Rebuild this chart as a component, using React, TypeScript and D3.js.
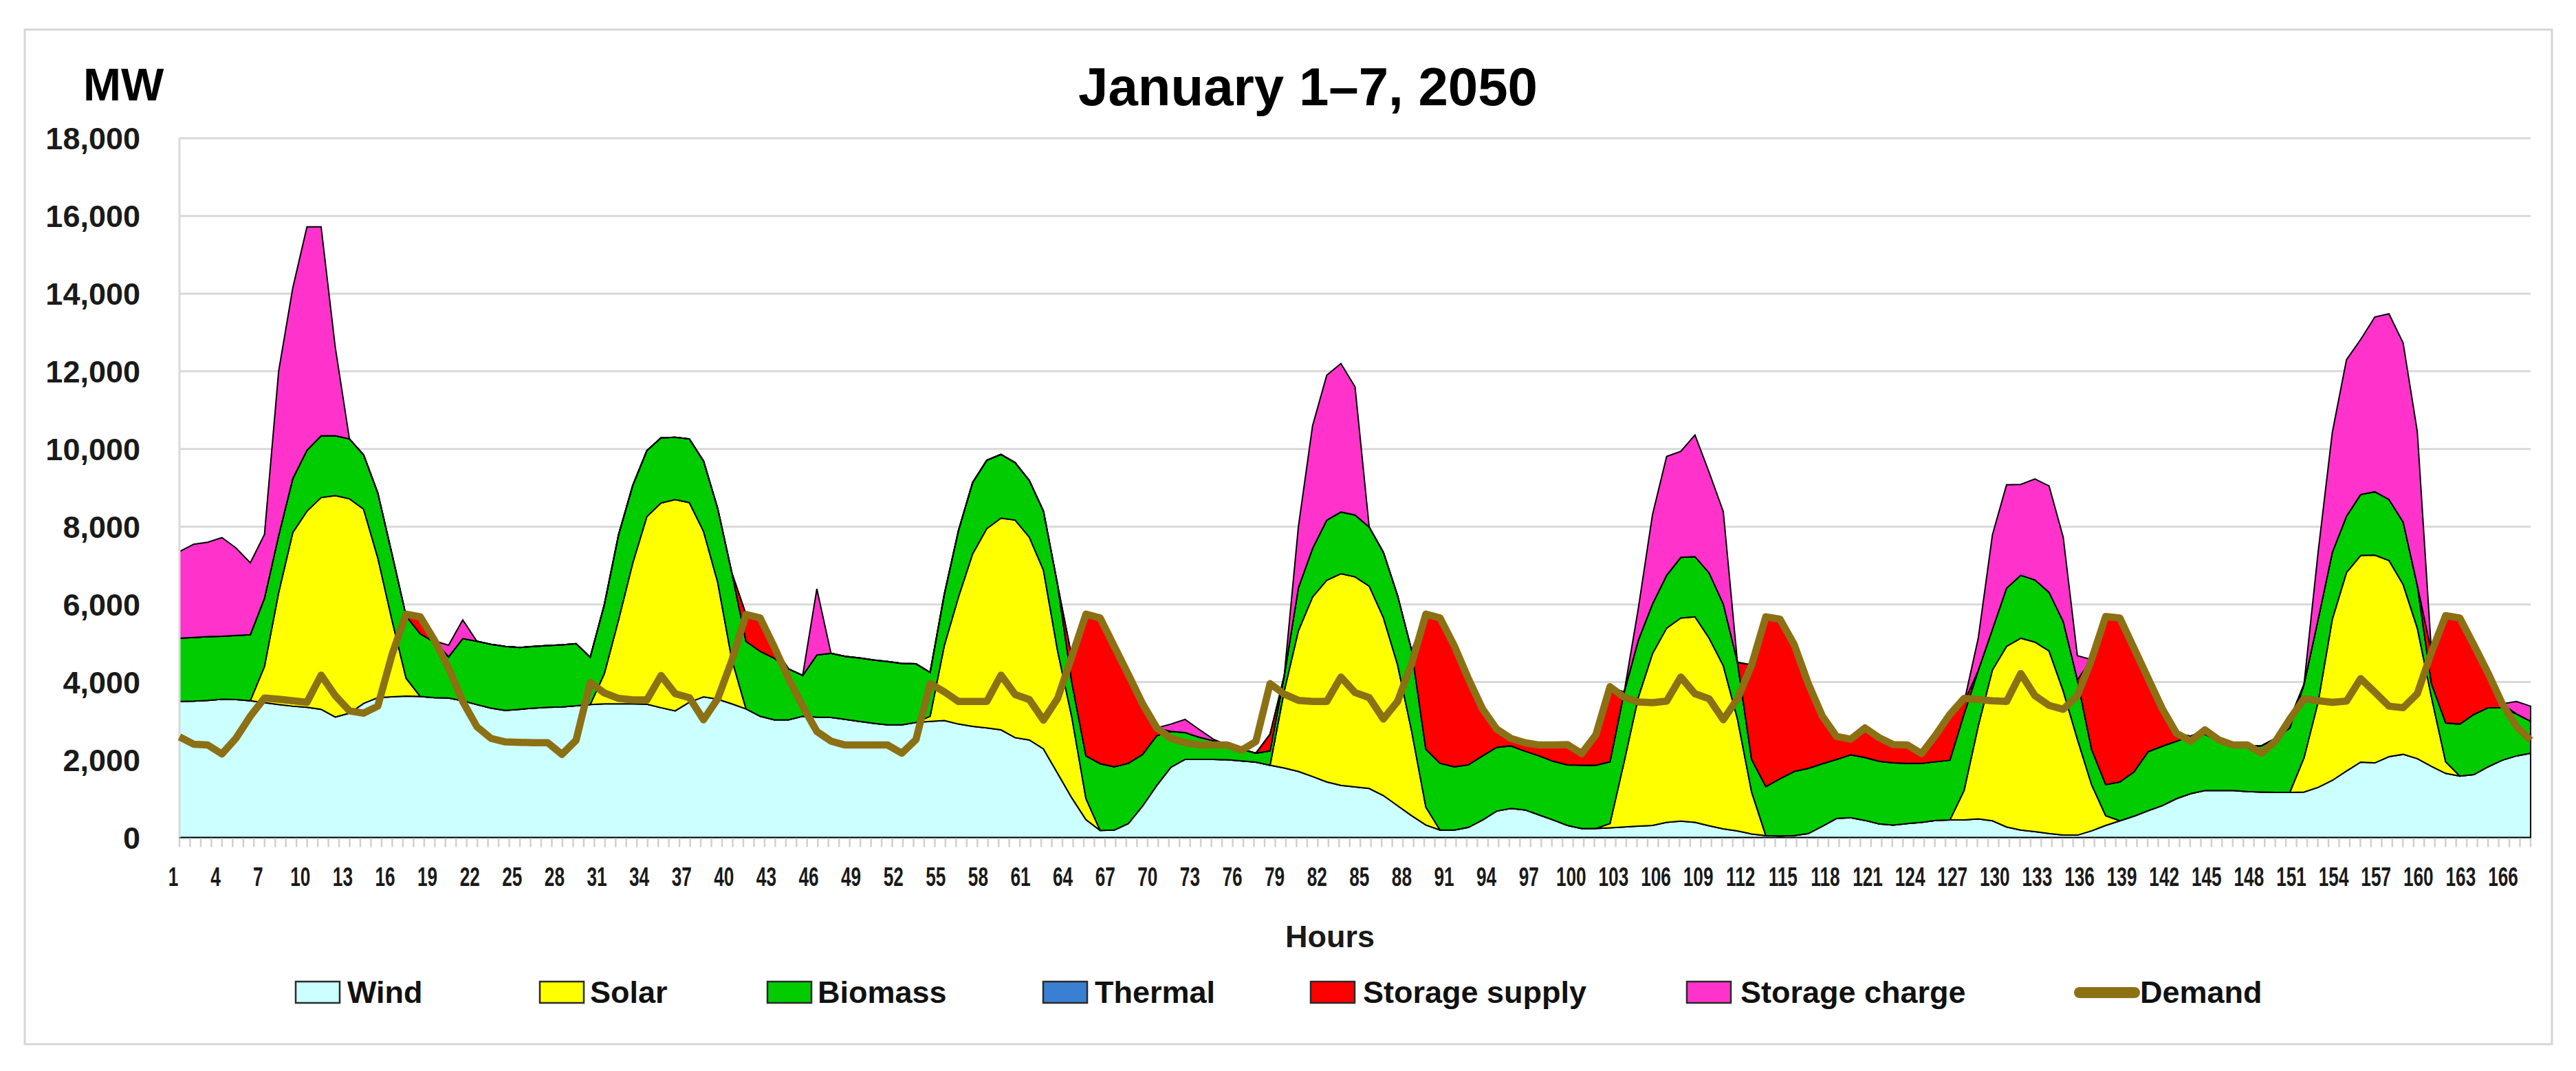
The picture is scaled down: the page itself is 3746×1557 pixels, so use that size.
import { useEffect, useRef } from 'react';
import * as d3 from 'd3';

// Hourly generation mix, January 1–7, 2050 (MW)
const hours = d3.range(1, 168);

const xTickLabels = [
  1, 4, 7, 10, 13, 16, 19, 22, 25, 28, 31, 34, 37, 40, 43, 46, 49, 52, 55, 58, 61, 64, 67, 70, 73, 76,
  79, 82, 85, 88, 91, 94, 97, 100, 103, 106, 109, 112, 115, 118, 121, 124, 127, 130, 133, 136, 139,
  142, 145, 148, 151, 154, 157, 160, 163, 166,
];

const yTicks = [0, 2000, 4000, 6000, 8000, 10000, 12000, 14000, 16000, 18000];

const seriesNames = ['Wind', 'Solar', 'Biomass', 'Thermal', 'Storage supply', 'Storage charge'];
const seriesColors = ['#CCFFFF', '#FFFF00', '#00CC00', '#3A80D2', '#FF0000', '#FF33CC'];

const wind = [
  3500, 3510, 3530, 3560, 3550, 3520, 3470, 3420, 3380, 3350,
  3300, 3100, 3200, 3450, 3600, 3620, 3640, 3630, 3600, 3590,
  3520, 3420, 3330, 3270, 3300, 3330, 3350, 3360, 3390, 3420,
  3440, 3440, 3440, 3430, 3340, 3260, 3480, 3620, 3560, 3440,
  3310, 3120, 3030, 3030, 3120, 3100, 3090, 3040, 2990, 2940,
  2900, 2900, 2960, 2990, 3010, 2920, 2860, 2820, 2770, 2570,
  2510, 2280, 1650, 1020, 460, 180, 190, 360, 810, 1340,
  1810, 2010, 2010, 2010, 2000, 1970, 1940, 1860, 1790, 1700,
  1570, 1430, 1340, 1300, 1260, 1080, 820, 560, 320, 190,
  190, 260, 450, 680, 750, 710, 580, 450, 310, 230,
  230, 250, 270, 290, 310, 390, 420, 390, 300, 220,
  170, 90, 50, 40, 50, 100, 290, 490, 510, 440,
  350, 320, 360, 390, 440, 450, 450, 480, 430, 270,
  190, 150, 100, 60, 60, 170, 310, 430, 550, 690,
  820, 1000, 1130, 1210, 1210, 1210, 1180, 1170, 1160, 1160,
  1170, 1290, 1470, 1710, 1940, 1920, 2080, 2140, 2030, 1830,
  1650, 1580, 1620, 1820, 1990, 2100, 2170,
];

const solar = [
  0, 0, 0, 0, 0, 0, 930, 2880, 4470, 5050,
  5450, 5700, 5520, 5000, 3600, 1980, 460, 0, 0, 0,
  0, 0, 0, 0, 0, 0, 0, 0, 0, 0,
  780, 2160, 3620, 4830, 5270, 5440, 5140, 4260, 3010, 1140,
  0, 0, 0, 0, 0, 0, 0, 0, 0, 0,
  0, 0, 0, 130, 1930, 3270, 4440, 5130, 5450, 5600,
  5220, 4600, 3150, 2080, 540, 0, 0, 0, 0, 0,
  0, 0, 0, 0, 0, 0, 0, 0, 1980, 3620,
  4620, 5190, 5450, 5410, 5210, 4580, 3630, 2170, 460, 0,
  0, 0, 0, 0, 0, 0, 0, 0, 0, 0,
  0, 110, 1680, 3320, 4420, 5000, 5230, 5290, 4830, 4200,
  2880, 1080, 0, 0, 0, 0, 0, 0, 0, 0,
  0, 0, 0, 0, 0, 0, 760, 2390, 3880, 4650,
  4940, 4880, 4700, 3710, 2470, 1190, 250, 0, 0, 0,
  0, 0, 0, 0, 0, 0, 0, 0, 0, 0,
  880, 2200, 4150, 5110, 5320, 5350, 5050, 4370, 3360, 1780,
  300, 0, 0, 0, 0, 0, 0,
];

const biomass = [
  1630, 1640, 1640, 1620, 1650, 1700, 1760, 1470, 1390, 1570,
  1590, 1540, 1540, 1400, 1670, 1700, 1600, 1610, 1430, 1060,
  1600, 1630, 1640, 1650, 1590, 1590, 1590, 1600, 1600, 1220,
  1780, 2190, 2000, 1700, 1680, 1600, 1640, 1810, 1900, 2230,
  1740, 1670, 1580, 1310, 1050, 1600, 1650, 1620, 1630, 1630,
  1630, 1580, 1510, 1130, 1320, 1710, 1840, 1760, 1640, 1480,
  1460, 1520, 1700, 900, 1100, 1720, 1630, 1550, 1330, 1280,
  920, 690, 570, 480, 380, 300, 230, 370, 390, 1110,
  1250, 1550, 1590, 1590, 1520, 1680, 1780, 2080, 1490, 1720,
  1630, 1610, 1650, 1640, 1610, 1510, 1520, 1510, 1560, 1630,
  1630, 1590, 1790, 1470, 1280, 1360, 1560, 1550, 1680, 1590,
  1460, 840, 1260, 1470, 1650, 1680, 1610, 1520, 1620, 1620,
  1610, 1600, 1550, 1520, 1510, 1540, 1970, 1430, 1050, 1500,
  1620, 1600, 1510, 1790, 1530, 910, 800, 1000, 1140, 1520,
  1530, 1480, 1480, 1450, 1260, 1180, 1170, 1190, 1390, 1660,
  1890, 2130, 1720, 1450, 1570, 1630, 1570, 1610, 1100, 350,
  1000, 1340, 1550, 1520, 1350, 1080, 820,
];

const thermal = [
  0, 0, 0, 0, 0, 0, 0, 0, 0, 0,
  0, 0, 0, 0, 0, 0, 0, 0, 0, 0,
  0, 0, 0, 0, 0, 0, 0, 0, 0, 0,
  0, 0, 0, 0, 0, 0, 0, 0, 0, 0,
  0, 0, 0, 0, 0, 0, 0, 0, 0, 0,
  0, 0, 0, 0, 0, 0, 0, 0, 0, 0,
  0, 0, 0, 0, 0, 0, 0, 0, 0, 0,
  0, 0, 0, 0, 0, 0, 0, 0, 0, 0,
  0, 0, 0, 0, 0, 0, 0, 0, 0, 0,
  0, 0, 0, 0, 0, 0, 0, 0, 0, 0,
  0, 0, 0, 0, 0, 0, 0, 0, 0, 0,
  0, 0, 0, 0, 0, 0, 0, 0, 0, 0,
  0, 0, 0, 0, 0, 0, 0, 0, 0, 0,
  0, 0, 0, 0, 0, 0, 0, 0, 0, 0,
  0, 0, 0, 0, 0, 0, 0, 0, 0, 0,
  0, 0, 0, 0, 0, 0, 0, 0, 0, 0,
  0, 0, 0, 0, 0, 0, 0,
];

const storageSupply = [
  0, 0, 0, 0, 0, 0, 0, 0, 0, 0,
  0, 0, 0, 0, 0, 0, 0, 380, 30, 0,
  0, 0, 0, 0, 0, 0, 0, 0, 0, 0,
  0, 0, 0, 0, 0, 0, 0, 0, 0, 0,
  690, 860, 290, 0, 0, 0, 0, 0, 0, 0,
  0, 0, 0, 0, 0, 0, 0, 0, 0, 0,
  0, 0, 0, 650, 3650, 3750, 3100, 2280, 1300, 200,
  0, 0, 0, 0, 0, 0, 0, 430, 0, 0,
  0, 0, 0, 0, 0, 0, 0, 0, 3480, 3740,
  3120, 2220, 1210, 470, 170, 180, 280, 420, 530, 300,
  780, 1930, 0, 0, 0, 0, 0, 0, 0, 0,
  0, 2430, 4370, 4110, 3270, 2180, 1220, 590, 400, 760,
  610, 470, 470, 250, 690, 1180, 300, 0, 0, 0,
  0, 0, 0, 0, 0, 2310, 4330, 4220, 3180, 1880,
  960, 200, 0, 110, 40, 0, 0, 0, 0, 230,
  0, 0, 0, 0, 0, 0, 0, 0, 0, 810,
  2760, 2730, 1780, 890, 100, 0, 0,
];

const storageCharge = [
  2230, 2400, 2430, 2540, 2250, 1850, 1640, 4230, 4910, 5750,
  5380, 2280, 0, 0, 0, 0, 0, 0, 0, 300,
  480, 0, 0, 0, 0, 0, 0, 0, 0, 0,
  0, 0, 0, 0, 0, 0, 0, 0, 0, 0,
  0, 0, 0, 0, 0, 1700, 0, 0, 0, 0,
  0, 0, 0, 0, 0, 0, 0, 0, 0, 0,
  0, 0, 0, 0, 0, 0, 0, 0, 0, 0,
  190, 340, 200, 40, 0, 0, 0, 0, 0, 1570,
  3160, 3730, 3820, 3300, 0, 0, 0, 0, 0, 0,
  0, 0, 0, 0, 0, 0, 0, 0, 0, 0,
  0, 0, 0, 820, 2300, 3060, 2730, 3130, 2590, 2380,
  0, 0, 0, 0, 0, 0, 0, 0, 0, 0,
  0, 0, 0, 0, 0, 0, 0, 830, 2430, 2660,
  2340, 2600, 2740, 2170, 620, 0, 0, 0, 0, 0,
  0, 0, 0, 0, 0, 0, 0, 0, 0, 0,
  0, 1740, 3090, 4030, 3990, 4500, 4780, 4610, 3960, 0,
  0, 0, 0, 0, 0, 320, 390,
];

const demand = [
  2590, 2400, 2380, 2150, 2560, 3120, 3590, 3560, 3520, 3480,
  4180, 3650, 3260, 3200, 3380, 4700, 5750, 5680, 5080, 4360,
  3500, 2850, 2550, 2460, 2450, 2440, 2440, 2140, 2500, 3990,
  3720, 3580, 3540, 3540, 4170, 3700, 3600, 3030, 3570, 4560,
  5740, 5650, 4900, 4090, 3380, 2730, 2480, 2380, 2380, 2380,
  2380, 2170, 2520, 3960, 3750, 3500, 3500, 3500, 4180, 3680,
  3550, 3020, 3580, 4650, 5750, 5650, 4920, 4190, 3440, 2820,
  2550, 2440, 2380, 2380, 2380, 2250, 2470, 3960, 3690, 3530,
  3500, 3500, 4130, 3730, 3600, 3050, 3500, 4480, 5750, 5650,
  4940, 4090, 3310, 2790, 2550, 2440, 2380, 2380, 2390, 2160,
  2640, 3880, 3610, 3490, 3470, 3510, 4130, 3700, 3570, 3030,
  3570, 4440, 5680, 5620, 4970, 3960, 3120, 2600, 2530, 2820,
  2570, 2390, 2380, 2160, 2640, 3170, 3580, 3550, 3520, 3500,
  4220, 3650, 3400, 3300, 3650, 4580, 5690, 5650, 4870, 4090,
  3310, 2680, 2480, 2770, 2510, 2380, 2380, 2170, 2480, 3050,
  3570, 3520, 3480, 3510, 4090, 3740, 3380, 3340, 3700, 4770,
  5710, 5650, 4950, 4230, 3440, 2860, 2500,
];

const seriesValues = [wind, solar, biomass, thermal, storageSupply, storageCharge];

const FONT = '"Liberation Sans", Arial, Helvetica, sans-serif';

const EnergyMixChart = () => {
  const svgRef = useRef<SVGSVGElement>(null);

  useEffect(() => {
    if (!svgRef.current) return;
    const svg = d3.select(svgRef.current);
    svg.selectAll('*').remove();

    const width = 3746;
    const height = 1557;
    const plot = { left: 261, right: 3680, top: 201, bottom: 1217.5 };

    svg.attr('width', width).attr('height', height).attr('viewBox', `0 0 ${width} ${height}`);

    svg.append('rect').attr('width', width).attr('height', height).attr('fill', '#ffffff');

    // outer chart frame
    svg.append('rect')
      .attr('x', 36).attr('y', 43).attr('width', 3675).attr('height', 1475)
      .attr('fill', '#ffffff').attr('stroke', '#d6d6d6').attr('stroke-width', 3);

    const x = d3.scaleLinear().domain([1, 167]).range([plot.left, plot.right]);
    const y = d3.scaleLinear().domain([0, 18000]).range([plot.bottom, plot.top]);
    // category labels sit slightly left of the points, as in the source chart
    const xLabel = d3.scaleLinear().domain([1, 166]).range([252, 3640]);

    // gridlines
    svg.append('g')
      .selectAll('line')
      .data(yTicks)
      .enter()
      .append('line')
      .attr('x1', plot.left).attr('x2', plot.right)
      .attr('y1', d => y(d)).attr('y2', d => y(d))
      .attr('stroke', '#d9d9d9').attr('stroke-width', 3);

    // y axis labels
    svg.append('g')
      .selectAll('text')
      .data(yTicks)
      .enter()
      .append('text')
      .attr('x', 204)
      .attr('y', d => y(d))
      .attr('dy', '0.36em')
      .attr('text-anchor', 'end')
      .attr('font-family', FONT).attr('font-weight', 'bold').attr('font-size', 45)
      .attr('fill', '#1a1a1a')
      .text(d => d3.format(',')(d));

    // stacked areas
    const rows = hours.map((h, i) => {
      const row: Record<string, number> = { hour: h };
      seriesNames.forEach((name, s) => { row[name] = seriesValues[s][i]; });
      return row;
    });
    const layers = d3.stack<Record<string, number>>().keys(seriesNames)(rows);

    const area = d3.area<d3.SeriesPoint<Record<string, number>>>()
      .x(d => x(d.data.hour))
      .y0(d => y(d[0]))
      .y1(d => y(d[1]));

    svg.append('g')
      .selectAll('path')
      .data(layers)
      .enter()
      .append('path')
      .attr('d', d => area(d) || '')
      .attr('fill', (_, i) => seriesColors[i])
      .attr('stroke', '#000000')
      .attr('stroke-width', 2)
      .attr('stroke-linejoin', 'miter');

    // axis lines and minor ticks
    svg.append('line')
      .attr('x1', plot.left).attr('x2', plot.left)
      .attr('y1', plot.top).attr('y2', plot.bottom)
      .attr('stroke', '#d9d9d9').attr('stroke-width', 3);

    const tickScale = d3.scaleLinear().domain([0, 221]).range([plot.left, plot.right]);
    svg.append('g')
      .selectAll('line')
      .data(d3.range(0, 222))
      .enter()
      .append('line')
      .attr('x1', d => tickScale(d)).attr('x2', d => tickScale(d))
      .attr('y1', plot.bottom + 1).attr('y2', plot.bottom + 14)
      .attr('stroke', '#d0d0d0').attr('stroke-width', 2.5);

    // demand line
    const line = d3.line<number>()
      .x((_, i) => x(hours[i]))
      .y(d => y(d));

    svg.append('path')
      .attr('d', line(demand) || '')
      .attr('fill', 'none')
      .attr('stroke', '#8C7014')
      .attr('stroke-width', 10.5)
      .attr('stroke-linejoin', 'round')
      .attr('stroke-linecap', 'butt');

    // x axis labels (condensed to fit the dense hour axis)
    svg.append('g')
      .selectAll('text')
      .data(xTickLabels)
      .enter()
      .append('text')
      .attr('transform', d => `translate(${xLabel(d)},1288) scale(0.69,1)`)
      .attr('text-anchor', 'middle')
      .attr('font-family', FONT).attr('font-weight', 'bold').attr('font-size', 38)
      .attr('fill', '#1a1a1a')
      .text(d => d);

    // titles
    svg.append('text')
      .attr('x', 1902).attr('y', 153)
      .attr('text-anchor', 'middle')
      .attr('font-family', FONT).attr('font-weight', 'bold').attr('font-size', 78)
      .attr('fill', '#000000')
      .text('January 1–7, 2050');

    svg.append('text')
      .attr('x', 121).attr('y', 146)
      .attr('font-family', FONT).attr('font-weight', 'bold').attr('font-size', 66)
      .attr('fill', '#000000')
      .text('MW');

    svg.append('text')
      .attr('x', 1934).attr('y', 1377)
      .attr('text-anchor', 'middle')
      .attr('font-family', FONT).attr('font-weight', 'bold').attr('font-size', 45)
      .attr('fill', '#1a1a1a')
      .text('Hours');

    // legend
    const legendItems = [
      { name: 'Wind', color: seriesColors[0], mx: 430, tx: 505 },
      { name: 'Solar', color: seriesColors[1], mx: 785, tx: 858 },
      { name: 'Biomass', color: seriesColors[2], mx: 1116, tx: 1189 },
      { name: 'Thermal', color: seriesColors[3], mx: 1517, tx: 1592 },
      { name: 'Storage supply', color: seriesColors[4], mx: 1906, tx: 1982 },
      { name: 'Storage charge', color: seriesColors[5], mx: 2453, tx: 2531 },
    ];

    const legend = svg.append('g');
    legendItems.forEach(item => {
      legend.append('rect')
        .attr('x', item.mx).attr('y', 1427).attr('width', 64).attr('height', 31)
        .attr('fill', item.color).attr('stroke', '#2a2a2a').attr('stroke-width', 2.5);
      legend.append('text')
        .attr('x', item.tx).attr('y', 1458)
        .attr('font-family', FONT).attr('font-weight', 'bold').attr('font-size', 45)
        .attr('fill', '#111111')
        .text(item.name);
    });

    legend.append('line')
      .attr('x1', 3024).attr('x2', 3104).attr('y1', 1443).attr('y2', 1443)
      .attr('stroke', '#8C7014').attr('stroke-width', 16).attr('stroke-linecap', 'round');
    legend.append('text')
      .attr('x', 3112).attr('y', 1458)
      .attr('font-family', FONT).attr('font-weight', 'bold').attr('font-size', 45)
      .attr('fill', '#111111')
      .text('Demand');
  }, []);

  return <svg ref={svgRef} style={{ position: 'absolute', left: 0, top: 0, display: 'block' }} />;
};

export default function App() {
  return <EnergyMixChart />;
}
